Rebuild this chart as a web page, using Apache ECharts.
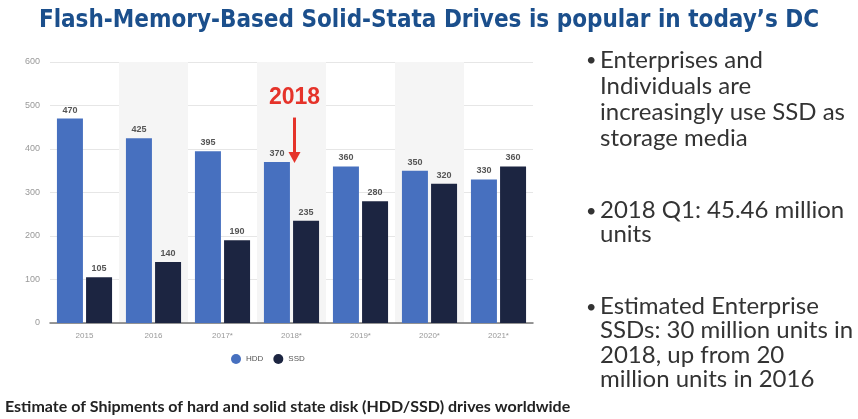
<!DOCTYPE html>
<html>
<head>
<meta charset="utf-8">
<script src="https://cdn.jsdelivr.net/npm/echarts@6/dist/echarts.min.js"></script>
<style>
  html, body { margin: 0; padding: 0; background: #fff; }
  #chart { width: 858px; height: 419px; }
</style>
</head>
<body>
<div id="chart"></div>
<script>
const years = ['2015', '2016', '2017*', '2018*', '2019*', '2020*', '2021*']
const hddValues = [470, 425, 395, 370, 360, 350, 330]
const ssdValues = [105, 140, 190, 235, 280, 320, 360]
const yTicks = [0, 100, 200, 300, 400, 500, 600]

const titleText = 'Flash-Memory-Based Solid-Stata Drives is popular in today\u2019s DC'
const captionText = 'Estimate of Shipments of hard and solid state disk (HDD/SSD) drives worldwide'
const bullets = [
  ['Enterprises and', 'Individuals are', 'increasingly use SSD as', 'storage media'],
  ['2018 Q1: 45.46 million', 'units'],
  ['Estimated Enterprise', 'SSDs: 30 million units in', '2018, up from 20', 'million units in 2016']
]
const bulletTops = [47, 198, 294]

const chart = echarts.init(document.getElementById('chart'))

const barLabel = {
  show: true,
  position: 'top',
  distance: 4,
  color: '#555',
  fontSize: 9,
  fontWeight: 'bold',
  fontFamily: 'Liberation Sans'
}

const bulletGraphics = []
bullets.forEach((lines, i) => {
  bulletGraphics.push({
    type: 'text', left: 586, top: bulletTops[i] + 4,
    style: { text: '\u2022', font: '18px Lato', fill: '#333' }
  })
  bulletGraphics.push({
    type: 'text', left: 600, top: bulletTops[i],
    style: { text: lines.join('\n'), font: '24px Lato', lineHeight: i === 0 ? 26 : 24.5, fill: '#333' }
  })
})

chart.setOption({
  backgroundColor: '#fff',
  animation: false,
  grid: { left: 50, right: 325, top: 62, bottom: 96 },
  legend: {
    left: 226,
    top: 349,
    icon: 'circle',
    itemWidth: 10,
    itemHeight: 10,
    itemGap: 10,
    textStyle: { color: '#555', fontSize: 8, fontFamily: 'Liberation Sans' },
    data: ['HDD', 'SSD']
  },
  xAxis: {
    type: 'category',
    data: years,
    axisLine: { lineStyle: { color: '#777', width: 1.5 } },
    axisTick: { show: false },
    axisLabel: { color: '#999', fontSize: 8, margin: 9, fontFamily: 'Liberation Sans' },
    splitArea: { show: true, areaStyle: { color: ['rgba(255,255,255,0)', '#f5f5f5'] } }
  },
  yAxis: {
    type: 'value',
    min: yTicks[0],
    max: yTicks[yTicks.length - 1],
    interval: 100,
    axisLine: { show: false },
    axisTick: { show: false },
    axisLabel: { color: '#999', fontSize: 9, margin: 10, fontFamily: 'Liberation Sans' },
    splitLine: { lineStyle: { color: '#e6e6e6' } }
  },
  series: [
    {
      name: 'HDD', type: 'bar', data: hddValues,
      barWidth: 26, barGap: '12%',
      itemStyle: { color: '#4770bf' },
      label: barLabel
    },
    {
      name: 'SSD', type: 'bar', data: ssdValues,
      barWidth: 26,
      itemStyle: { color: '#1c2541' },
      label: barLabel
    }
  ]
})

// annotation over the 2018 category
const px = chart.convertToPixel({ xAxisIndex: 0 }, '2018*') + 3
const yTop = chart.convertToPixel({ yAxisIndex: 0 }, 470)
const yTip = chart.convertToPixel({ yAxisIndex: 0 }, 368)

chart.setOption({
  graphic: [
    {
      type: 'text', left: 'center', top: 9,
      style: { text: titleText, font: 'bold 24px "DejaVu Sans Condensed"', fill: '#1b4f8c' }
    },
    {
      type: 'text', left: 5, top: 399,
      style: { text: captionText, font: 'bold 16px Lato', fill: '#222' }
    },
    {
      type: 'text', x: px, y: 98,
      style: { text: '2018', font: 'bold 23px "Liberation Sans"', fill: '#e5332a', align: 'center', verticalAlign: 'middle' }
    },
    {
      type: 'line',
      shape: { x1: px, y1: yTop - 1, x2: px, y2: yTip - 9 },
      style: { stroke: '#e5332a', lineWidth: 3 }
    },
    {
      type: 'polygon',
      shape: { points: [[px - 6, yTip - 11], [px + 6, yTip - 11], [px, yTip]] },
      style: { fill: '#e5332a' }
    }
  ].concat(bulletGraphics)
})
</script>
</body>
</html>
